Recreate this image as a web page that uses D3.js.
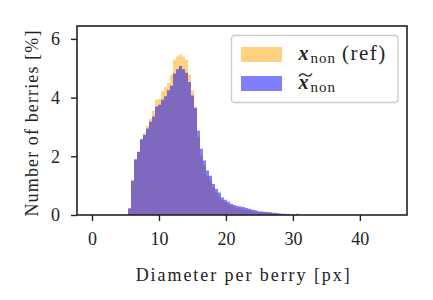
<!DOCTYPE html>
<html>
<head>
<meta charset="utf-8">
<script src="https://cdn.jsdelivr.net/npm/d3@7"></script>
<style>
  body { margin: 0; background: #fff; }
  svg { display: block; font-family: "Liberation Serif", serif; }
</style>
</head>
<body>
<div class="container"></div>
<script>
// histogram bins: first drawn bin and the bin width (in px of diameter)
const binStart = 5.376
  , binWidth = 0.448;

// x_non (ref), percentage of berries per bin
const refValues = [0.25, 1.2, 1.88, 2.17, 2.6, 2.8, 3.03, 3.28, 3.55, 3.93, 3.95, 4.22,
  4.36, 4.5, 4.79, 5.29, 5.4, 5.46, 5.4, 5.29, 4.79, 4.24, 3.7, 2.67,
  2.03, 1.69, 1.34, 1.17, 0.95, 0.77, 0.63, 0.5, 0.44, 0.37, 0.33, 0.29,
  0.25, 0.22, 0.2, 0.18, 0.16, 0.15, 0.12, 0.1, 0.1, 0.09, 0.08, 0.07,
  0.06, 0.05, 0.04, 0.035, 0.03, 0.03, 0.02, 0, 0];

// reconstructed x_non, percentage of berries per bin
const reconValues = [0.22, 1.17, 1.9, 2.15, 2.58, 2.73, 2.95, 3.18, 3.36, 3.7, 3.76, 3.93,
  4.05, 4.25, 4.4, 4.82, 4.97, 5.08, 4.97, 4.85, 4.53, 4.07, 3.65, 2.87,
  2.26, 1.86, 1.52, 1.34, 1.06, 0.89, 0.77, 0.6, 0.52, 0.45, 0.38, 0.34,
  0.31, 0.29, 0.27, 0.24, 0.21, 0.18, 0.16, 0.13, 0.12, 0.11, 0.1, 0.09,
  0.08, 0.07, 0.05, 0.04, 0.04, 0.03, 0.02, 0, 0.04];

const xTicks = [0, 10, 20, 30, 40]
  , yTicks = [0, 2, 4, 6];

const margin = { top: 26, right: 26, bottom: 85, left: 77 };
const width = 433 - margin.left - margin.right;
const height = 300 - margin.top - margin.bottom;

const svg = d3.select(".container")
  .append("svg")
  .attr("width", 433)
  .attr("height", 300);

const canvas = svg.append("g")
  .attr("transform", `translate(${margin.left}, ${margin.top})`);

const xScale = d3.scaleLinear().domain([-2.24, 47.04]).range([0, width]);
const yScale = d3.scaleLinear().domain([0, 6.44]).range([height, 0]);

// turn a list of bin heights into step points (left edges + closing right edge)
function steps(values) {
  let pts = values.map((v, i) => ({ x: binStart + i * binWidth, y: v }));
  pts.push({ x: binStart + values.length * binWidth, y: values[values.length - 1] });
  return pts;
}

const area = d3.area()
  .curve(d3.curveStepAfter)
  .x(d => xScale(d.x))
  .y0(yScale(0))
  .y1(d => yScale(d.y));

canvas.append("path")
  .attr("d", area(steps(refValues)))
  .attr("fill", "#ffa500")
  .attr("fill-opacity", 0.5);

canvas.append("path")
  .attr("d", area(steps(reconValues)))
  .attr("fill", "#0000ff")
  .attr("fill-opacity", 0.5);

// axes
const xAxis = d3.axisBottom(xScale).tickValues(xTicks).tickSize(6).tickPadding(11);
const yAxis = d3.axisLeft(yScale).tickValues(yTicks).tickSize(6).tickPadding(11)
  .tickFormat(d3.format("d"));

canvas.append("g")
  .attr("transform", `translate(0, ${height})`)
  .call(xAxis)
  .call(g => g.select(".domain").remove());

canvas.append("g")
  .call(yAxis)
  .call(g => g.select(".domain").remove());

canvas.selectAll(".tick line").attr("stroke", "#222").attr("stroke-width", 1.4);
canvas.selectAll(".tick text")
  .attr("font-family", "Liberation Serif, serif")
  .attr("font-size", 18)
  .attr("fill", "#222");

// frame
canvas.append("rect")
  .attr("width", width)
  .attr("height", height)
  .attr("fill", "none")
  .attr("stroke", "#222")
  .attr("stroke-width", 1.6);

// axis labels, stretched to the width of the original serif font
svg.append("text")
  .attr("x", margin.left + xScale(22.5))
  .attr("y", 281)
  .attr("text-anchor", "middle")
  .attr("font-size", 18)
  .attr("fill", "#222")
  .attr("textLength", 214)
  .attr("lengthAdjust", "spacing")
  .text("Diameter per berry [px]");

svg.append("text")
  .attr("transform", `translate(38, 123.5) rotate(-90)`)
  .attr("text-anchor", "middle")
  .attr("font-size", 18)
  .attr("fill", "#222")
  .attr("textLength", 186)
  .attr("lengthAdjust", "spacing")
  .text("Number of berries [%]");

// legend
const legend = svg.append("g").attr("transform", "translate(231.5, 35.5)");
legend.append("rect")
  .attr("width", 166.5)
  .attr("height", 67)
  .attr("rx", 3)
  .attr("fill", "#fff")
  .attr("fill-opacity", 0.8)
  .attr("stroke", "#ccc")
  .attr("stroke-width", 1.3);

const entries = [
  { color: "#ffa500", tilde: false, suffix: "(ref)" },
  { color: "#0000ff", tilde: true, suffix: "" }
];

entries.forEach((e, i) => {
  let row = legend.append("g").attr("transform", `translate(0, ${11.5 + i * 29})`);
  row.append("rect")
    .attr("x", 9.5)
    .attr("width", 41)
    .attr("height", 15)
    .attr("fill", e.color)
    .attr("fill-opacity", 0.5);
  let t = row.append("text")
    .attr("x", 67)
    .attr("y", 13)
    .attr("font-size", 20)
    .attr("fill", "#222");
  t.append("tspan")
    .attr("font-weight", "bold")
    .attr("font-style", "italic")
    .text("x");
  t.append("tspan")
    .attr("font-size", 15)
    .attr("letter-spacing", 1)
    .attr("dx", 2)
    .attr("dy", 3)
    .text("non");
  if (e.suffix) {
    t.append("tspan")
      .attr("dy", -3)
      .attr("dx", 6)
      .attr("font-size", 21)
      .attr("letter-spacing", 1.5)
      .text(e.suffix);
  }
  if (e.tilde) {
    // wide tilde over the x
    row.append("path")
      .attr("d", "M67.5,0.5 C69.5,-3 72,-2.5 74,-1 C76,0.5 78.5,1 80.5,-2.5")
      .attr("fill", "none")
      .attr("stroke", "#222")
      .attr("stroke-width", 1.4);
  }
});
</script>
</body>
</html>
